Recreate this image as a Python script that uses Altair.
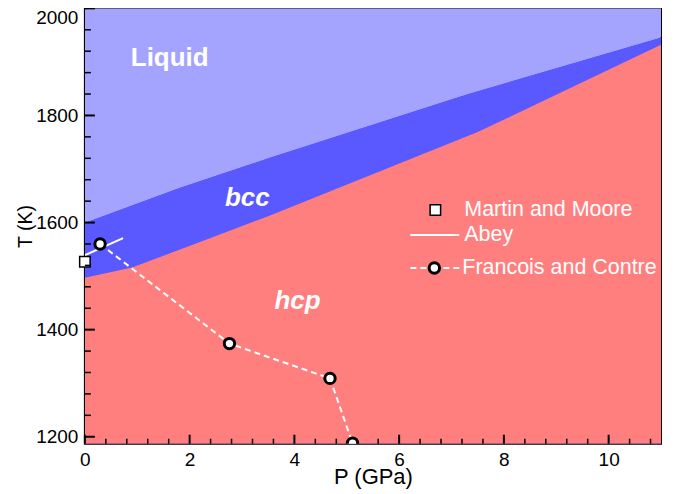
import altair as alt
import pandas as pd

# ---- phase boundaries ----
P_LIQ = [0.0, 1.8, 3.6, 7.3, 11.0]
T_LIQ = [1600, 1665, 1724, 1840, 1946]
P_HCP = [0.0, 0.9, 2.4, 3.5, 7.5, 11.0]
T_HCP = [1497, 1516, 1571, 1612, 1769, 1932]

# ---- experimental / theoretical points ----
MM_NAME = "Martin and Moore"
MM_P = [0.0]
MM_T = [1527]
AB_NAME = "Abey"
AB_P = [0.0, 0.73]
AB_T = [1539, 1571]
FC_NAME = "Francois and Contre"
FC_MARK = "marker"
FC_P = [0.29, 2.76, 4.68, 5.11]
FC_T = [1560, 1374, 1309, 1188]

# ---- region labels ----
REGION_NAMES = ["Liquid", "bcc", "hcp"]
REGION_P = [1.62, 3.1, 4.06]
REGION_T = [1908, 1645, 1454]

# ---- axes ----
X_DOMAIN = [0, 11]
Y_DOMAIN = [1187, 2000]
X_MAJOR = [0, 2, 4, 6, 8, 10]
X_MINOR = [0.4, 0.8, 1.2, 1.6, 2.4, 2.8, 3.2, 3.6, 4.4, 4.8, 5.2, 5.6,
           6.4, 6.8, 7.2, 7.6, 8.4, 8.8, 9.2, 9.6, 10.4, 10.8]
Y_MAJOR = [1200, 1400, 1600, 1800, 2000]
Y_MINOR = [1240, 1280, 1320, 1360, 1440, 1480, 1520, 1560, 1640, 1680,
           1720, 1760, 1840, 1880, 1920, 1960]

W, H = 577, 436
LIQ_COLOR = "#a4a4ff"
BCC_COLOR = "#5959ff"
HCP_COLOR = "#ff7f7f"
FONT = "Liberation Sans"
LEG_FS = 21.5

df_liq = pd.DataFrame({"P": P_LIQ, "T": T_LIQ})
df_hcp = pd.DataFrame({"P": P_HCP, "T": T_HCP})
df_mm = pd.DataFrame({"P": MM_P, "T": MM_T, "mm": [MM_NAME] * len(MM_P)})
df_ab = pd.DataFrame({"P": AB_P, "T": AB_T, "ab": [AB_NAME] * len(AB_P)})
df_fc = pd.DataFrame({"P": FC_P, "T": FC_T,
                      "fcl": [FC_NAME] * len(FC_P), "fcp": [FC_MARK] * len(FC_P)})
df_reg = pd.DataFrame({"name": REGION_NAMES, "P": REGION_P, "T": REGION_T})

xs = alt.Scale(domain=X_DOMAIN, nice=False, zero=False)
ys = alt.Scale(domain=Y_DOMAIN, nice=False, zero=False)

ax_x = alt.Axis(orient="bottom", values=X_MAJOR, tickSize=2, tickOpacity=0,
                domain=False, grid=False, labelFont=FONT, labelFontSize=19,
                labelColor="black", labelPadding=5, labelFlush=False,
                labelOverlap=False, title="P (GPa)", titleFont=FONT,
                titleFontSize=22, titleFontWeight="normal", titleColor="black",
                titlePadding=-3)
ax_y = alt.Axis(orient="left", values=Y_MAJOR, format="d", tickSize=2,
                tickOpacity=0, domain=False, grid=False, labelFont=FONT,
                labelFontSize=19, labelColor="black", labelPadding=5,
                labelFlush=True, labelOverlap=False,
                title="T (K)", titleFont=FONT, titleFontSize=19.5,
                titleFontWeight="normal", titleColor="black", titlePadding=0)


def X(axis=None):
    return alt.X("P:Q", scale=xs, axis=axis)


def Y(axis=None):
    return alt.Y("T:Q", scale=ys, axis=axis)


def leg(x, y, label_offset, **kw):
    return alt.Legend(title=None, orient="none", legendX=x, legendY=y, padding=0,
                      labelFont=FONT, labelFontSize=LEG_FS, labelColor="white",
                      labelLimit=400, labelOffset=label_offset, **kw)


liquid = alt.Chart(df_liq).mark_area(color=LIQ_COLOR, clip=True).encode(
    x=X(ax_x), y=Y(ax_y), y2=alt.datum(Y_DOMAIN[1]))
bcc = alt.Chart(df_liq).mark_area(color=BCC_COLOR, clip=True).encode(
    x=X(), y=Y(), y2=alt.datum(Y_DOMAIN[0]))
hcp = alt.Chart(df_hcp).mark_area(color=HCP_COLOR, clip=True).encode(
    x=X(), y=Y(), y2=alt.datum(Y_DOMAIN[0]))

# inward tick marks, positioned by the scales
xt_major = alt.Chart(pd.DataFrame({"P": X_MAJOR})).mark_rule(
    color="black", strokeWidth=2).encode(x=X(), y=alt.value(H), y2=alt.value(H - 9))
xt_minor = alt.Chart(pd.DataFrame({"P": X_MINOR})).mark_rule(
    color="black", strokeWidth=1.5).encode(x=X(), y=alt.value(H), y2=alt.value(H - 5))
yt_major = alt.Chart(pd.DataFrame({"T": Y_MAJOR})).mark_rule(
    color="black", strokeWidth=2).encode(y=Y(), x=alt.value(0), x2=alt.value(10))
yt_minor = alt.Chart(pd.DataFrame({"T": Y_MINOR})).mark_rule(
    color="black", strokeWidth=1.5).encode(y=Y(), x=alt.value(0), x2=alt.value(6))

abey = alt.Chart(df_ab).mark_line(color="white", strokeWidth=2, clip=True).encode(
    x=X(), y=Y(),
    stroke=alt.Stroke("ab:N", scale=alt.Scale(domain=[AB_NAME], range=["white"]),
                      legend=leg(325, 201.5, 4, symbolType="stroke",
                                 symbolSize=2401, symbolStrokeWidth=2,
                                 symbolStrokeColor="white")),
)
DASH_PATH = "M-1,0H-0.755M-0.592,0H-0.347M0.347,0H0.592M0.755,0H1"
fc_line = alt.Chart(df_fc).mark_line(color="white", strokeWidth=2,
                                     strokeDash=[6, 4], clip=True).encode(
    x=X(), y=Y(),
    opacity=alt.Opacity(
        "fcl:N", scale=alt.Scale(domain=[FC_NAME], range=[1]),
        legend=leg(325, 234.5, 2, symbolType=DASH_PATH, symbolSize=2401,
                   symbolStrokeWidth=2, symbolStrokeColor="white",
                   symbolFillColor="transparent")),
)
fc_pts = alt.Chart(df_fc).mark_point(shape="circle", filled=True, size=108,
                                     fill="white", stroke="black", strokeWidth=3,
                                     opacity=1, clip=True).encode(
    x=X(), y=Y(),
    fill=alt.Fill("fcp:N", scale=alt.Scale(domain=[FC_MARK], range=["white"]),
                  legend=leg(339.25, 249.25, 0, symbolType="circle",
                             symbolSize=108, symbolStrokeWidth=3,
                             symbolStrokeColor="black", symbolFillColor="white",
                             symbolOpacity=1, labelExpr="''")),
)
mm_pts = alt.Chart(df_mm).mark_point(shape="square", filled=True, size=110,
                                     fill="white", stroke="black", strokeWidth=1.5,
                                     opacity=1).encode(
    x=X(), y=Y(),
    fill=alt.Fill("mm:N", scale=alt.Scale(domain=[MM_NAME], range=["white"]),
                  legend=leg(340.25, 191.25, 18.25, symbolType="square",
                             symbolSize=110, symbolStrokeWidth=1.5,
                             symbolStrokeColor="black", symbolFillColor="white",
                             symbolOpacity=1)),
)

txt_liq = alt.Chart(df_reg).transform_filter("datum.name == 'Liquid'").mark_text(
    font=FONT, fontSize=26, fontWeight="bold", color="white").encode(
    x=X(), y=Y(), text="name:N")
txt_ph = alt.Chart(df_reg).transform_filter("datum.name != 'Liquid'").mark_text(
    font=FONT, fontSize=26, fontWeight="bold", fontStyle="italic",
    color="white").encode(x=X(), y=Y(), text="name:N")

chart = alt.layer(
    liquid, bcc, hcp, txt_liq, txt_ph, abey, fc_line, fc_pts, mm_pts,
    xt_major, xt_minor, yt_major, yt_minor
).resolve_scale(
    x="shared", y="shared", fill="independent"
).resolve_axis(
    x="independent", y="independent"
).resolve_legend(
    fill="independent"
).properties(
    width=W, height=H,
    autosize=alt.AutoSizeParams(type="none"),
    padding={"left": 77, "top": 0, "right": 10, "bottom": 48},
    background="white",
).configure_view(
    stroke="black", strokeWidth=2
)

chart.save("out.html", embed_options={"renderer": "svg", "actions": False})
